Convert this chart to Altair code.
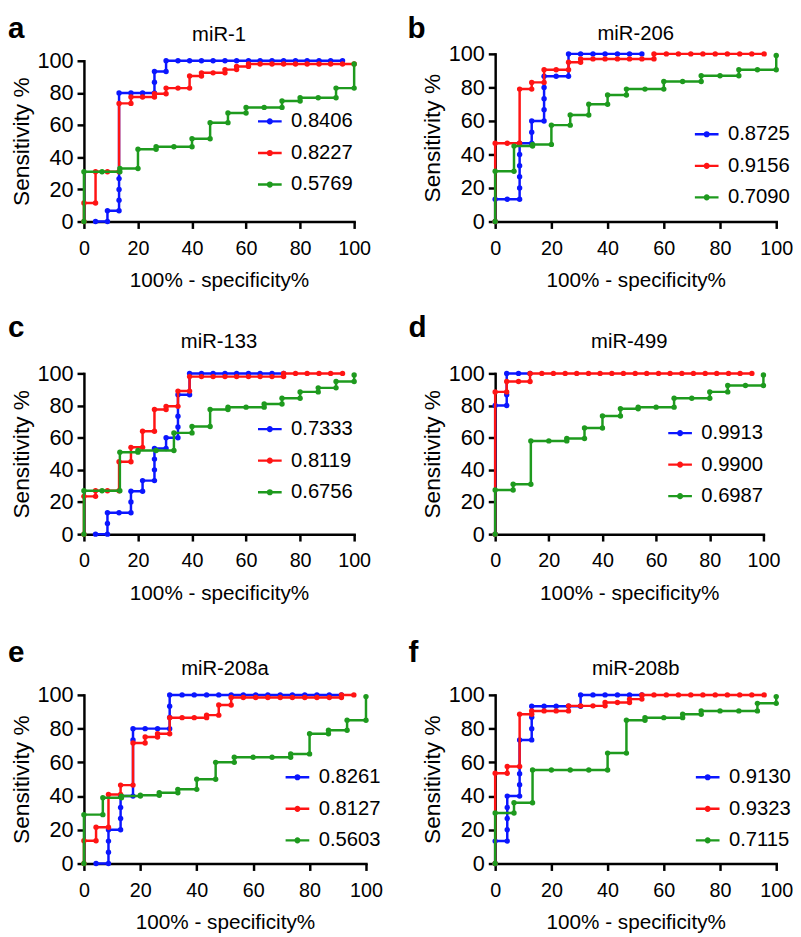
import altair as alt
import pandas as pd

FONT = "Liberation Sans"
BLUE, RED, GREEN = "#0b16ff", "#ff1414", "#1e9a1e"

# ---- panel titles / AUC legend labels ----
titles = ["miR-1", "miR-206", "miR-133", "miR-499", "miR-208a", "miR-208b"]
letters = ["a", "b", "c", "d", "e", "f"]
auc_a = ["0.8406", "0.8227", "0.5769"]
auc_b = ["0.8725", "0.9156", "0.7090"]
auc_c = ["0.7333", "0.8119", "0.6756"]
auc_d = ["0.9913", "0.9900", "0.6987"]
auc_e = ["0.8261", "0.8127", "0.5603"]
auc_f = ["0.9130", "0.9323", "0.7115"]

# ---- ROC curves: (100% - specificity%, sensitivity%) ----
a_blue = [(4.3,0),(8.7,0),(8.7,6.7),(13.0,6.7),(13.0,13.3),(13.0,20),(13.0,26.7),(13.0,80),(17.4,80),(21.7,80),(26.1,80),(26.1,86.7),(26.1,93.3),(30.4,93.3),(30.4,100),(34.8,100),(39.1,100),(43.5,100),(47.8,100),(52.2,100),(56.5,100),(60.9,100),(65.2,100),(69.6,100),(73.9,100),(78.3,100),(82.6,100),(87.0,100),(91.3,100),(95.7,100)]
a_red = [(0,0),(0,11.5),(4.3,11.5),(4.3,31),(8.7,31),(13.0,31),(13.0,73.5),(17.4,73.5),(17.4,77.5),(21.7,77.5),(26.1,77.5),(26.1,79.5),(30.4,79.5),(30.4,83),(34.8,83),(39.1,83),(39.1,90.5),(43.5,90.5),(43.5,92.5),(47.8,92.5),(52.2,92.5),(52.2,94.5),(56.5,94.5),(56.5,96.5),(60.9,96.5),(60.9,98),(65.2,98),(69.6,98),(73.9,98),(78.3,98),(82.6,98),(87.0,98),(91.3,98),(95.7,98),(100,98)]
a_green = [(0,0),(0,31),(6.7,31),(13.3,31),(13.3,33),(20,33),(20,45),(26.7,45),(26.7,46.5),(33.3,46.5),(40,46.5),(40,51.5),(46.7,51.5),(46.7,61.5),(53.3,61.5),(53.3,67.5),(60,67.5),(60,71),(66.7,71),(73.3,71),(73.3,75),(80,75),(80,77),(86.7,77),(93.3,77),(93.3,83),(100,83),(100,98)]

b_blue = [(0,0),(0,13.3),(4.3,13.3),(8.7,13.3),(8.7,20),(8.7,26.7),(8.7,33.3),(8.7,40),(8.7,46.7),(13.0,46.7),(13.0,53.3),(13.0,60),(17.4,60),(17.4,66.7),(17.4,73.3),(17.4,80),(17.4,86.7),(21.7,86.7),(26.1,86.7),(26.1,100),(30.4,100),(34.8,100),(39.1,100),(43.5,100),(47.8,100),(52.2,100)]
b_red = [(0,0),(0,46.7),(4.3,46.7),(8.7,46.7),(8.7,79),(13.0,79),(13.0,83),(17.4,83),(17.4,90.5),(21.7,90.5),(26.1,90.5),(26.1,95),(30.4,95),(30.4,97),(34.8,97),(39.1,97),(43.5,97),(47.8,97),(52.2,97),(56.5,97),(56.5,100),(60.9,100),(65.2,100),(69.6,100),(73.9,100),(78.3,100),(82.6,100),(87.0,100),(91.3,100),(95.7,100)]
b_green = [(0,0),(0,30),(6.7,30),(6.7,45),(13.3,45),(13.3,46),(20,46),(20,57.5),(26.7,57.5),(26.7,63.5),(33.3,63.5),(33.3,70),(40,70),(40,75.5),(46.7,75.5),(46.7,79),(53.3,79),(60,79),(60,83.5),(66.7,83.5),(73.3,83.5),(73.3,87),(80,87),(86.7,87),(86.7,90.5),(93.3,90.5),(100,90.5),(100,99)]

c_blue = [(4.3,0),(8.7,0),(8.7,6.7),(8.7,13.3),(13.0,13.3),(17.4,13.3),(17.4,20),(17.4,26.7),(21.7,26.7),(21.7,33.3),(26.1,33.3),(26.1,40),(26.1,46.7),(26.1,53.3),(30.4,53.3),(30.4,60),(34.8,60),(34.8,66.7),(34.8,73.3),(34.8,86.7),(39.1,86.7),(39.1,100),(43.5,100),(47.8,100),(52.2,100),(56.5,100),(60.9,100),(65.2,100),(69.6,100),(73.9,100)]
c_red = [(0,0),(0,23.5),(4.3,23.5),(4.3,27),(8.7,27),(13.0,27),(13.0,45),(17.4,45),(17.4,54),(21.7,54),(21.7,64),(26.1,64),(26.1,77.5),(30.4,77.5),(30.4,79.5),(34.8,79.5),(34.8,89),(39.1,89),(39.1,98),(43.5,98),(47.8,98),(52.2,98),(56.5,98),(60.9,98),(65.2,98),(69.6,98),(73.9,98),(73.9,100),(78.3,100),(82.6,100),(87.0,100),(91.3,100),(95.7,100)]
c_green = [(0,0),(0,27),(6.7,27),(13.3,27),(13.3,51),(20,51),(20,52),(26.7,52),(33.3,52),(33.3,63),(40,63),(40,67),(46.7,67),(46.7,77.5),(53.3,77.5),(53.3,79),(60,79),(66.7,79),(66.7,81),(73.3,81),(73.3,84.5),(80,84.5),(80,88.5),(86.7,88.5),(86.7,91),(93.3,91),(93.3,95),(100,95),(100,99)]

d_blue = [(0,0),(0,80),(4.3,80),(4.3,86.7),(4.3,100),(8.7,100),(13.0,100)]
d_red = [(0,0),(0,88.5),(4.3,88.5),(4.3,95),(8.7,95),(13.0,95),(13.0,100),(17.4,100),(21.7,100),(26.1,100),(30.4,100),(34.8,100),(39.1,100),(43.5,100),(47.8,100),(52.2,100),(56.5,100),(60.9,100),(65.2,100),(69.6,100),(73.9,100),(78.3,100),(82.6,100),(87.0,100),(91.3,100),(95.7,100)]
d_green = [(0,0),(0,27.5),(6.7,27.5),(6.7,31),(13.3,31),(13.3,58),(20,58),(26.7,58),(26.7,59.5),(33.3,59.5),(33.3,66),(40,66),(40,73.5),(46.7,73.5),(46.7,78),(53.3,78),(53.3,79),(60,79),(66.7,79),(66.7,84.5),(73.3,84.5),(80,84.5),(80,88.5),(86.7,88.5),(86.7,92.5),(93.3,92.5),(100,92.5),(100,99)]

e_blue = [(4.3,0),(8.7,0),(8.7,6.7),(8.7,13.3),(8.7,20),(13.0,20),(13.0,26.7),(13.0,33.3),(13.0,40),(17.4,40),(17.4,73.3),(17.4,80),(21.7,80),(26.1,80),(30.4,80),(30.4,86.7),(30.4,93.3),(30.4,100),(34.8,100),(39.1,100),(43.5,100),(47.8,100),(52.2,100),(56.5,100),(60.9,100),(65.2,100),(69.6,100),(73.9,100),(78.3,100),(82.6,100),(87.0,100),(91.3,100)]
e_red = [(0,0),(0,13.5),(4.3,13.5),(4.3,21.5),(8.7,21.5),(8.7,41),(13.0,41),(13.0,46.5),(17.4,46.5),(17.4,71.5),(21.7,71.5),(21.7,75),(26.1,75),(26.1,77),(30.4,77),(30.4,86.5),(34.8,86.5),(39.1,86.5),(43.5,86.5),(43.5,88),(47.8,88),(47.8,94),(52.2,94),(52.2,98.5),(56.5,98.5),(60.9,98.5),(65.2,98.5),(69.6,98.5),(73.9,98.5),(78.3,98.5),(82.6,98.5),(87.0,98.5),(91.3,98.5),(91.3,100),(95.7,100)]
e_green = [(0,0),(0,29),(6.7,29),(6.7,39),(13.3,39),(13.3,40),(20,40),(20,40.5),(26.7,40.5),(26.7,42),(33.3,42),(33.3,44),(40,44),(40,50),(46.7,50),(46.7,60),(53.3,60),(53.3,63),(60,63),(66.7,63),(73.3,63),(73.3,65),(80,65),(80,77),(86.7,77),(86.7,79),(93.3,79),(93.3,85),(100,85),(100,99)]

f_blue = [(0,0),(0,13.3),(4.3,13.3),(4.3,20),(4.3,26.7),(4.3,33.3),(4.3,40),(8.7,40),(8.7,46.7),(8.7,53.3),(8.7,73.3),(13.0,73.3),(13.0,80),(13.0,86.7),(13.0,93.3),(17.4,93.3),(21.7,93.3),(26.1,93.3),(30.4,93.3),(30.4,100),(34.8,100),(39.1,100),(43.5,100),(47.8,100),(52.2,100)]
f_red = [(0,0),(0,53.5),(4.3,53.5),(4.3,57.5),(8.7,57.5),(8.7,88.5),(13.0,88.5),(13.0,90.5),(17.4,90.5),(21.7,90.5),(26.1,90.5),(26.1,93.5),(30.4,93.5),(34.8,93.5),(39.1,93.5),(39.1,95.5),(43.5,95.5),(47.8,95.5),(47.8,97.5),(52.2,97.5),(52.2,100),(56.5,100),(60.9,100),(65.2,100),(69.6,100),(73.9,100),(78.3,100),(82.6,100),(87.0,100),(91.3,100),(95.7,100)]
f_green = [(0,0),(0,30),(6.7,30),(6.7,36),(13.3,36),(13.3,55.5),(20,55.5),(26.7,55.5),(33.3,55.5),(40,55.5),(40,65.5),(46.7,65.5),(46.7,85),(53.3,85),(53.3,86.5),(60,86.5),(66.7,86.5),(66.7,88.5),(73.3,88.5),(73.3,90.5),(80,90.5),(86.7,90.5),(93.3,90.5),(93.3,95),(100,95),(100,99)]

ticks = [0, 20, 40, 60, 80, 100]

# layout per panel: plot width/height, y pixel range top, legend x/y, title y, letter x/y
layout = {
    "a": dict(w=274, h=170, ytop=7, lx=175, ly=55, ty=-13, ldx=-77, ldy=-16),
    "b": dict(w=285, h=170, ytop=0, lx=201, ly=68, ty=-14, ldx=-89, ldy=-16),
    "c": dict(w=274, h=163, ytop=0, lx=175, ly=43, ty=-26, ldx=-77, ldy=-37),
    "d": dict(w=272, h=163, ytop=0, lx=174, ly=47, ty=-26, ldx=-88, ldy=-37),
    "e": dict(w=286, h=171, ytop=0, lx=203, ly=70, ty=-20, ldx=-77, ldy=-33),
    "f": dict(w=285, h=171, ytop=0, lx=202, ly=70, ty=-20, ldx=-88, ldy=-33),
}

curves = {
    "a": (auc_a, [a_blue, a_red, a_green]),
    "b": (auc_b, [b_blue, b_red, b_green]),
    "c": (auc_c, [c_blue, c_red, c_green]),
    "d": (auc_d, [d_blue, d_red, d_green]),
    "e": (auc_e, [e_blue, e_red, e_green]),
    "f": (auc_f, [f_blue, f_red, f_green]),
}

SYM = "M-1,0H1M-0.16,0a0.16,0.16 0 1,0 0.32,0a0.16,0.16 0 1,0 -0.32,0"

x_axis = alt.Axis(values=ticks, title="100% - specificity%", grid=False,
                  domainColor="black", domainWidth=2.5, tickColor="black", tickWidth=2.5,
                  tickSize=7, labelFont=FONT, labelFontSize=20, labelColor="black",
                  labelPadding=10, labelFlush=False, titleFont=FONT, titleFontSize=21,
                  titleFontWeight="normal", titleColor="black", titlePadding=12,
                  domainCap="square")
y_axis = alt.Axis(values=ticks, title="Sensitivity %", grid=False,
                  domainColor="black", domainWidth=2.5, tickColor="black", tickWidth=2.5,
                  tickSize=7, labelFont=FONT, labelFontSize=22, labelColor="black",
                  labelPadding=4, labelFlush=False, titleFont=FONT, titleFontSize=23,
                  titleFontWeight="normal", titleColor="black", titlePadding=4,
                  domainCap="square")


def make_panel(key, title):
    aucs, series = curves[key]
    L = layout[key]
    rows = []
    for s, (auc, pts) in enumerate(zip(aucs, series)):
        for i, (x, y) in enumerate(pts):
            rows.append({"series": auc, "s": s, "i": i, "x": x, "y": y})
    df = pd.DataFrame(rows)
    legend = alt.Legend(title=None, orient="none", legendX=L["lx"], legendY=L["ly"],
                        symbolType=SYM, symbolSize=576, symbolStrokeWidth=2.4,
                        labelFont=FONT, labelFontSize=20.5, labelColor="black",
                        rowPadding=8, labelOffset=8)
    color = alt.Color("series:N", scale=alt.Scale(domain=aucs, range=[BLUE, RED, GREEN]),
                      legend=legend)
    xenc = alt.X("x:Q", scale=alt.Scale(domain=[0, 100], nice=False, zero=False), axis=x_axis)
    yenc = alt.Y("y:Q", scale=alt.Scale(domain=[0, 100], nice=False, zero=False,
                                        range=[L["h"], L["ytop"]]), axis=y_axis)
    layers = []
    for s in range(3):
        base = alt.Chart(df).transform_filter(alt.datum.s == s).encode(
            x=xenc, y=yenc, color=color, order="i:Q")
        layers.append(base.mark_line(strokeWidth=2.5))
        layers.append(base.mark_circle(size=30, opacity=1))
    letter = alt.Chart(pd.DataFrame({"t": [key]})).mark_text(
        font=FONT, fontSize=30, fontWeight="bold", align="left", baseline="alphabetic",
        color="black").encode(text="t:N", x=alt.value(L["ldx"]), y=alt.value(L["ldy"]))
    ttl = alt.Chart(pd.DataFrame({"t": [title]})).mark_text(
        font=FONT, fontSize=20.5, align="center", baseline="alphabetic",
        color="black").encode(text="t:N", x=alt.value(L["w"] / 2), y=alt.value(L["ty"]))
    return alt.layer(*layers, letter, ttl).properties(width=L["w"], height=L["h"])


panels = [make_panel(k, t) for k, t in zip(letters, titles)]
row1 = alt.hconcat(panels[0], panels[1], spacing=37).resolve_scale(color="independent")
row2 = alt.hconcat(panels[2], panels[3], spacing=38).resolve_scale(color="independent")
row3 = alt.hconcat(panels[4], panels[5], spacing=26).resolve_scale(color="independent")

top = alt.vconcat(row1, row2, spacing=23).resolve_scale(color="independent")
chart = alt.vconcat(top, row3, spacing=36).resolve_scale(color="independent").properties(
    padding=0).configure_view(stroke=None)

chart.save("out.html", embed_options={"renderer": "svg", "actions": False})
